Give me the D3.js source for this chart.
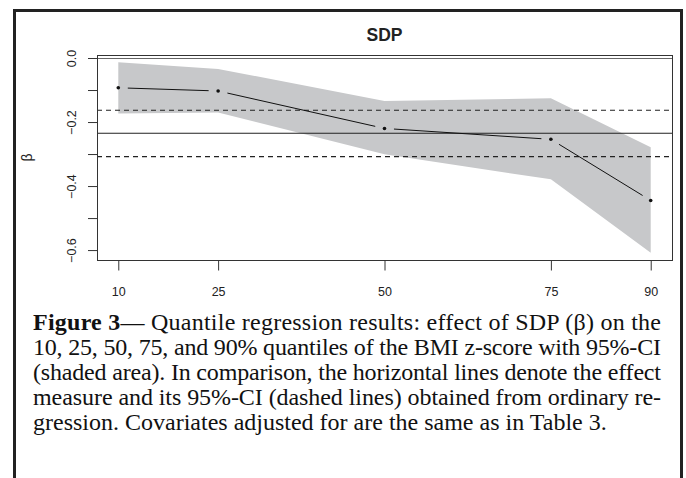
<!DOCTYPE html>
<html>
<head>
<meta charset="utf-8">
<script src="https://cdn.jsdelivr.net/npm/d3@7"></script>
<style>
  html, body { margin: 0; padding: 0; background: #fff; }
  svg { display: block; }
</style>
</head>
<body>
<div id="chart"></div>
<script>
// quantile regression estimates for SDP
var quantiles = [10, 25, 50, 75, 90];
var beta = [-0.093, -0.103, -0.220, -0.254, -0.445];
var ciLower = [-0.173, -0.170, -0.301, -0.379, -0.608];
var ciUpper = [-0.013, -0.034, -0.134, -0.126, -0.279];
// ordinary regression effect and its 95%-CI
var olsBeta = -0.235;
var olsCI = [-0.308, -0.163];
var yTicks = [0, -0.1, -0.2, -0.3, -0.4, -0.5, -0.6];
var yLabelTicks = [0, -0.2, -0.4, -0.6];
var title = 'SDP';
var yTitle = 'β';
var captionBold = 'Figure 3';
var captionLines = [
    '— Quantile regression results: effect of SDP (β) on the',
    '10, 25, 50, 75, and 90% quantiles of the BMI z-score with 95%-CI',
    '(shaded area). In comparison, the horizontal lines denote the effect',
    'measure and its 95%-CI (dashed lines) obtained from ordinary re-',
    'gression. Covariates adjusted for are the same as in Table 3.'
];

var W = 686, H = 478;
var box = {left: 97, right: 672, top: 55, bottom: 260};

var svg = d3.select('#chart').append('svg')
    .attr('width', W).attr('height', H);

// outer frame (bottom edge runs off the page)
svg.append('rect')
    .attr('x', 14.5).attr('y', 10.5)
    .attr('width', 667).attr('height', 490)
    .attr('fill', 'none').attr('stroke', '#222').attr('stroke-width', 3);

var x = d3.scaleLinear().domain([6.8, 93.2]).range([box.left, box.right]);
var y = d3.scaleLinear().domain([-0.631, 0.0094]).range([box.bottom, box.top]);

var g = svg.append('g');

// shaded CI band
var band = d3.area()
    .x(function(d, i) { return x(quantiles[i]); })
    .y0(function(d, i) { return y(ciLower[i]); })
    .y1(function(d, i) { return y(ciUpper[i]); });
g.append('path').datum(quantiles)
    .attr('d', band)
    .attr('fill', '#c7c8ca');

// zero line
g.append('line')
    .attr('x1', box.left).attr('x2', box.right)
    .attr('y1', Math.round(y(0)) + 0.5).attr('y2', Math.round(y(0)) + 0.5)
    .attr('stroke', '#666').attr('stroke-width', 1);

// OLS estimate and CI
g.append('line')
    .attr('x1', box.left).attr('x2', box.right)
    .attr('y1', y(olsBeta)).attr('y2', y(olsBeta))
    .attr('stroke', '#222').attr('stroke-width', 1.2);
g.selectAll('.ci').data(olsCI).enter().append('line')
    .attr('x1', box.left).attr('x2', box.right)
    .attr('y1', function(d) { return y(d); })
    .attr('y2', function(d) { return y(d); })
    .attr('stroke', '#222').attr('stroke-width', 1.1)
    .attr('stroke-dasharray', '5,4');

// point estimates joined with gaps (like type = "b")
var gap = 9.5;
var segs = [];
for (var i = 0; i < quantiles.length - 1; i++) {
    var x1 = x(quantiles[i]), y1 = y(beta[i]),
        x2 = x(quantiles[i + 1]), y2 = y(beta[i + 1]),
        len = Math.sqrt((x2 - x1) * (x2 - x1) + (y2 - y1) * (y2 - y1)),
        ux = (x2 - x1) / len, uy = (y2 - y1) / len;
    segs.push([x1 + ux * gap, y1 + uy * gap, x2 - ux * gap, y2 - uy * gap]);
}
g.selectAll('.seg').data(segs).enter().append('line')
    .attr('x1', function(d) { return d[0]; })
    .attr('y1', function(d) { return d[1]; })
    .attr('x2', function(d) { return d[2]; })
    .attr('y2', function(d) { return d[3]; })
    .attr('stroke', '#111').attr('stroke-width', 1);
g.selectAll('.pt').data(quantiles).enter().append('circle')
    .attr('cx', function(d) { return x(d); })
    .attr('cy', function(d, i) { return y(beta[i]); })
    .attr('r', 1.8).attr('fill', '#111');

// plot box
svg.append('rect')
    .attr('x', box.left + 0.5).attr('y', box.top + 0.5)
    .attr('width', box.right - box.left).attr('height', box.bottom - box.top)
    .attr('fill', 'none').attr('stroke', '#333').attr('stroke-width', 1);

// y axis
var yAxis = svg.append('g')
    .attr('transform', 'translate(' + (box.left + 0.5) + ',0)')
    .call(d3.axisLeft(y).tickValues(yTicks).tickSize(9.5)
        .tickFormat(function(d) {
            return yLabelTicks.indexOf(d) >= 0 ? d3.format('.1f')(d) : '';
        }));
yAxis.select('.domain').remove();
yAxis.selectAll('line').attr('stroke', '#333');
yAxis.selectAll('text')
    .attr('transform', 'rotate(-90)')
    .attr('x', 0).attr('y', -22).attr('dy', null)
    .attr('text-anchor', 'middle')
    .attr('font-family', 'Liberation Sans, Arial, sans-serif')
    .attr('font-size', 12.5).attr('fill', '#222');

// x axis
var xAxis = svg.append('g')
    .attr('transform', 'translate(0,' + (box.bottom + 0.5) + ')')
    .call(d3.axisBottom(x).tickValues(quantiles).tickSize(10).tickPadding(17));
xAxis.select('.domain').remove();
xAxis.selectAll('line').attr('stroke', '#333');
xAxis.selectAll('text')
    .attr('font-family', 'Liberation Sans, Arial, sans-serif')
    .attr('font-size', 12.5).attr('fill', '#222');

// titles
svg.append('text')
    .attr('x', (box.left + box.right) / 2).attr('y', 40.5)
    .attr('text-anchor', 'middle')
    .attr('font-family', 'Liberation Sans, Arial, sans-serif')
    .attr('font-weight', 'bold').attr('font-size', 17.5).attr('fill', '#222')
    .text(title);
svg.append('text')
    .attr('transform', 'translate(27,' + ((box.top + box.bottom) / 2) + ') rotate(-90)')
    .attr('text-anchor', 'middle').attr('dy', '0.35em')
    .attr('font-family', 'Liberation Sans, Arial, sans-serif')
    .attr('font-size', 14).attr('fill', '#222')
    .text(yTitle);

// caption
var cap = svg.append('g')
    .attr('font-family', 'Liberation Serif, Times New Roman, serif')
    .attr('font-size', 24).attr('fill', '#111');
var capLeft = 33, capRight = 661, capTop = 330, capStep = 25;
captionLines.forEach(function(line, i) {
    var t = cap.append('text')
        .attr('x', capLeft).attr('y', capTop + i * capStep);
    if (i === 0) {
        t.append('tspan').attr('font-weight', 'bold').text(captionBold);
    }
    t.append('tspan').text(line);
    if (i < captionLines.length - 1) {
        t.attr('textLength', capRight - capLeft).attr('lengthAdjust', 'spacing');
    }
});
</script>
</body>
</html>
